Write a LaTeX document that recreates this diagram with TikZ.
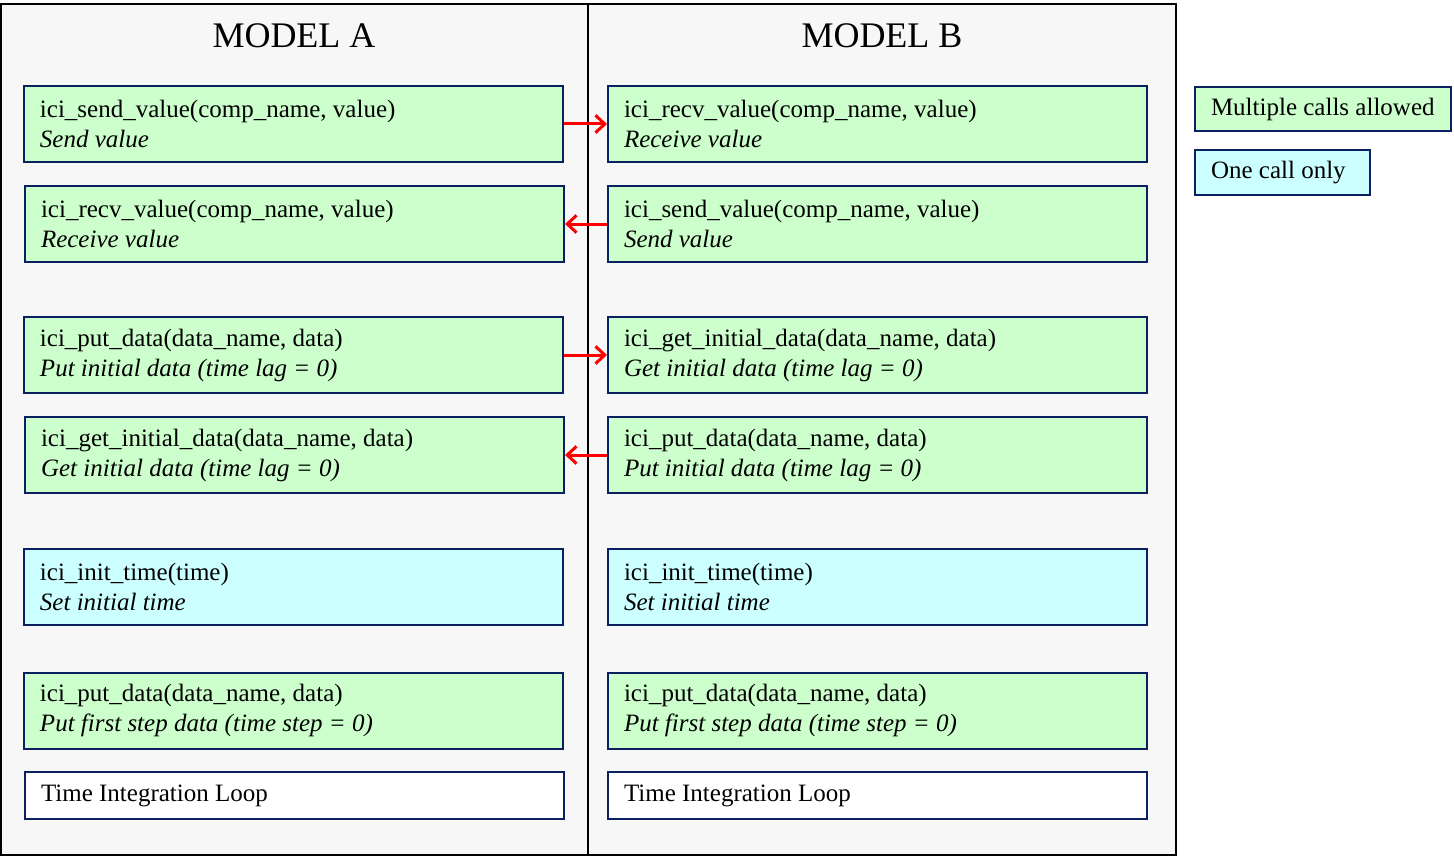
\documentclass[tikz,border=0pt]{standalone}
\usepackage{fontspec}
\setmainfont{Liberation Serif}
\usetikzlibrary{arrows.meta}
\definecolor{navy}{HTML}{0A2060}
\definecolor{boxgreen}{HTML}{CCFFCC}
\definecolor{boxcyan}{HTML}{CCFFFF}
\definecolor{panelgray}{HTML}{F7F7F7}
\begin{document}
\begin{tikzpicture}[x=0.75pt,y=-0.75pt,
  callbox/.style={draw=navy, line width=1.5pt, rectangle, inner xsep=12pt, inner ysep=0pt,
    text width=380.25pt, minimum height=57pt, align=flush left,
    font=\fontsize{18.75}{22.5}\selectfont},
  multi/.style={callbox, fill=boxgreen},
  once/.style={callbox, fill=boxcyan},
  loopbox/.style={callbox, fill=white, minimum height=35.25pt},
  legendbox/.style={draw=navy, line width=1.5pt, rectangle, inner xsep=12pt, inner ysep=0pt,
    minimum height=33.5pt, align=flush left, font=\fontsize{18.75}{22.5}\selectfont, anchor=west},
  panel/.style={draw=black, line width=1.5pt, fill=panelgray},
  title/.style={font=\fontsize{27}{32}\selectfont},
  link/.style={draw=red, line width=2.25pt, -{Straight Barb[length=7pt,width=13pt]}}
]
\useasboundingbox (0,0) rectangle (1454,856);
\draw[panel] (1,4) rectangle (588,855);
\draw[panel] (588,4) rectangle (1176,855);
\node[title] (ta) at (294,36) {MODEL A};
\node[title] (tb) at (882,36) {MODEL B};

% Model A
\node[multi] (a1) at (293.5,124) {ici\_send\_value(comp\_name, value)\\\textit{Send value}};
\node[multi] (a2) at (294.5,224) {ici\_recv\_value(comp\_name, value)\\\textit{Receive value}};
\node[multi] (a3) at (293.5,355) {ici\_put\_data(data\_name, data)\\\textit{Put initial data (time lag = 0)}};
\node[multi] (a4) at (294.5,455) {ici\_get\_initial\_data(data\_name, data)\\\textit{Get initial data (time lag = 0)}};
\node[once]  (a5) at (293.5,586.5) {ici\_init\_time(time)\\\textit{Set initial time}};
\node[multi] (a6) at (293.5,710.5) {ici\_put\_data(data\_name, data)\\\textit{Put first step data (time step = 0)}};
\node[loopbox] (a7) at (294.5,795.5) {Time Integration Loop};

% Model B
\node[multi] (b1) at (877.5,124) {ici\_recv\_value(comp\_name, value)\\\textit{Receive value}};
\node[multi] (b2) at (877.5,224) {ici\_send\_value(comp\_name, value)\\\textit{Send value}};
\node[multi] (b3) at (877.5,355) {ici\_get\_initial\_data(data\_name, data)\\\textit{Get initial data (time lag = 0)}};
\node[multi] (b4) at (877.5,455) {ici\_put\_data(data\_name, data)\\\textit{Put initial data (time lag = 0)}};
\node[once]  (b5) at (877.5,586.5) {ici\_init\_time(time)\\\textit{Set initial time}};
\node[multi] (b6) at (877.5,710.5) {ici\_put\_data(data\_name, data)\\\textit{Put first step data (time step = 0)}};
\node[loopbox] (b7) at (877.5,795.5) {Time Integration Loop};

% Legend
\node[legendbox, fill=boxgreen, text width=168pt] (l1) at (1194,109) {Multiple calls allowed};
\node[legendbox, fill=boxcyan, text width=107.25pt] (l2) at (1194,172.5) {One call only};

% Links
\draw[link] (a1.east) -- (b1.west);
\draw[link] (b2.west) -- (a2.east);
\draw[link] (a3.east) -- (b3.west);
\draw[link] (b4.west) -- (a4.east);
\end{tikzpicture}
\end{document}
